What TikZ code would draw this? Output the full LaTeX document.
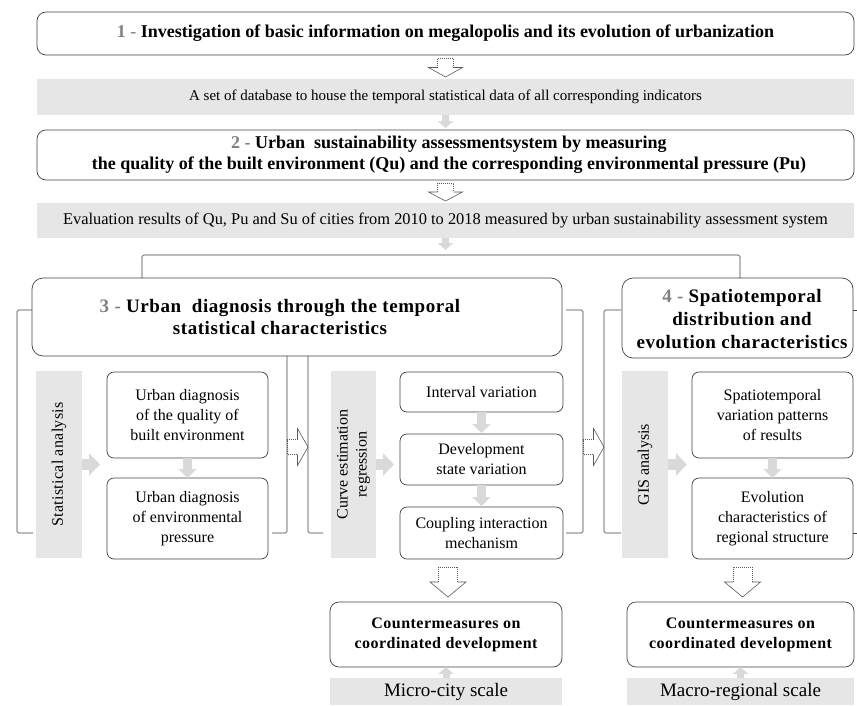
\documentclass[tikz,border=0pt]{standalone}
\usepackage{fontspec}
\setmainfont{Liberation Serif}
\usetikzlibrary{calc,arrows.meta}
\definecolor{bandc}{HTML}{E6E6E6}
\definecolor{arrc}{HTML}{D9D9D9}
\definecolor{linec}{HTML}{404040}
\definecolor{numc}{HTML}{808080}
\definecolor{holc}{HTML}{595959}
\newcommand\hdown[4]{%
  \coordinate (hA) at #1; \coordinate (hB) at #2;
  \coordinate (hM) at ($(hA)!0.5!(hB)$);
  \draw[holdot] ($(hM)+(-#3,0)$) -- ($(hA)+(-#3,0)$) -- ($(hA)+(#3,0)$) -- ($(hM)+(#3,0)$);
  \draw[holsolid] ($(hM)+(-#3,0)$) -- ($(hM)+(-#4,0)$) -- (hB) -- ($(hM)+(#4,0)$) -- ($(hM)+(#3,0)$);
}
\newcommand\hright[4]{%
  \coordinate (hA) at #1; \coordinate (hB) at #2;
  \coordinate (hM) at ($(hA)!0.5!(hB)$);
  \draw[holdot] ($(hM)+(0,-#3)$) -- ($(hA)+(0,-#3)$) -- ($(hA)+(0,#3)$) -- ($(hM)+(0,#3)$);
  \draw[holsolid] ($(hM)+(0,-#3)$) -- ($(hM)+(0,-#4)$) -- (hB) -- ($(hM)+(0,#4)$) -- ($(hM)+(0,#3)$);
}
\begin{document}
\begin{tikzpicture}[x=1pt,y=-1pt,
  box/.style={draw=linec, line width=0.7pt, rounded corners=9pt, align=center, inner sep=0pt, outer sep=0pt},
  sbox/.style={box, rounded corners=7pt, font=\fontsize{16}{20}\selectfont},
  band/.style={fill=bandc, draw=none, inner sep=0pt, outer sep=0pt, align=center},
  conn/.style={draw=linec, line width=0.6pt, rounded corners=1.5pt},
  holdot/.style={draw=holc, line width=0.6pt, dash pattern=on 1pt off 1pt},
  holsolid/.style={draw=holc, line width=0.6pt, line join=miter},
  garrowA/.style={arrc, line width=11pt, -{Triangle[width=22pt,length=11pt]}},
  garrowB/.style={arrc, line width=9pt, -{Triangle[width=18pt,length=9pt]}},
  garrowC/.style={arrc, line width=7pt, -{Triangle[width=15pt,length=7pt]}},
  lbl/.style={inner sep=0pt, align=center},
]
\useasboundingbox (0,0) rectangle (857,705);

% top part
\node[box, minimum width=817, minimum height=43] (box1) at (445.5,33.5) {};
\node[lbl, font=\fontsize{18}{21}\selectfont] (t1) at (box1.center)
  {\textcolor{numc}{\textbf{1} -} \textbf{Investigation of basic information on megalopolis and its evolution of urbanization}};
\node[band, minimum width=817, minimum height=36, font=\fontsize{15}{18}\selectfont] (band1) at (445.5,97)
  {A set of database to house the temporal statistical data of all corresponding indicators};
\node[box, minimum width=817, minimum height=50] (box2) at (445.5,155) {};
\node[lbl, font=\fontsize{18}{21}\selectfont\bfseries] (t2) at (449,155)
  {\textcolor{numc}{2 -} Urban \ sustainability assessmentsystem by measuring\\
   the quality of the built environment (Qu) and the corresponding environmental pressure (Pu)};
\node[band, minimum width=817, minimum height=35, font=\fontsize{16.4}{19}\selectfont] (band2) at (445.5,220.5)
  {Evaluation results of Qu, Pu and Su of cities from 2010 to 2018 measured by urban sustainability assessment system};

% section headers
\node[box, rounded corners=11pt, minimum width=530, minimum height=78] (box3) at (297,317) {};
\node[lbl, font=\fontsize{19}{22}\selectfont\bfseries\addfontfeature{LetterSpace=3}] (t3) at (280,317)
  {\textcolor{numc}{3 -} Urban \ diagnosis through the temporal\\statistical characteristics};
\node[box, rounded corners=11pt, minimum width=231, minimum height=80] (box4) at (737.5,318) {};
\node[lbl, font=\fontsize{19}{23}\selectfont\bfseries\addfontfeature{LetterSpace=3}] (t4) at (742,319)
  {\textcolor{numc}{4 -} Spatiotemporal\\distribution and\\evolution characteristics};

% section 1
\node[band, minimum width=46, minimum height=187] (stat) at (59,464.5) {};
\node[lbl, rotate=90, font=\fontsize{16}{19}\selectfont\addfontfeature{LetterSpace=2}] (statt) at (stat.center) {Statistical analysis};
\node[sbox, minimum width=161, minimum height=86] (s1a) at (187.5,415) {Urban diagnosis\\of the quality of\\built environment};
\node[sbox, minimum width=161, minimum height=81] (s1b) at (187.5,518.5) {Urban diagnosis\\of environmental\\pressure};

% section 2
\node[band, minimum width=45, minimum height=187] (curve) at (353.5,464.5) {};
\node[lbl, rotate=90, font=\fontsize{16}{19}\selectfont] (curvet) at (curve.center) {Curve estimation\\regression};
\node[sbox, minimum width=163, minimum height=40] (interval) at (481.5,392) {Interval variation};
\node[sbox, minimum width=163, minimum height=51] (develop) at (481.5,459.5) {Development\\state variation};
\node[sbox, minimum width=163, minimum height=52] (coupling) at (481.5,533) {Coupling interaction\\mechanism};

% section 3
\node[band, minimum width=46, minimum height=187] (gis) at (645,464.5) {};
\node[lbl, rotate=90, font=\fontsize{16}{19}\selectfont] (gist) at (gis.center) {GIS analysis};
\node[sbox, minimum width=161, minimum height=86] (s3a) at (772.5,415) {Spatiotemporal\\variation patterns\\of results};
\node[sbox, minimum width=161, minimum height=81] (s3b) at (772.5,518.5) {Evolution\\characteristics of\\regional structure};

% countermeasures
\node[sbox, rounded corners=9pt, minimum width=232, minimum height=65, font=\fontsize{16}{20}\selectfont\bfseries\addfontfeature{LetterSpace=3}] (cm1) at (446,634.5) {Countermeasures on\\coordinated development};
\node[sbox, rounded corners=9pt, minimum width=227, minimum height=65, font=\fontsize{16}{20}\selectfont\bfseries\addfontfeature{LetterSpace=3}] (cm2) at (740.5,634.5) {Countermeasures on\\coordinated development};
\node[band, minimum width=232, minimum height=27, font=\fontsize{19}{22}\selectfont] (micro) at (446,691.5) {Micro-city scale};
\node[band, minimum width=227, minimum height=27, font=\fontsize{19}{22}\selectfont] (macro) at (740.5,691.5) {Macro-regional scale};

% bracket coordinates
\coordinate (tl) at (142,255);
\coordinate (tr) at (740,255);
\coordinate (l1a) at (17,310);
\coordinate (l1b) at (17,533);
\coordinate (r1) at (287,533);
\coordinate (l2) at (308,533);
\coordinate (r2a) at (583,310);
\coordinate (r2b) at (583,533);
\coordinate (l3a) at (604,310);
\coordinate (l3b) at (604,533);

% connectors (brackets)
\draw[conn] (tl |- box3.north) -- (tl) -- (tr) -- (tr |- box4.north);
\draw[conn] (box3.west |- l1a) -- (l1a) -- (l1b) -- ++(16,0);
\draw[conn] (r1 |- box3.south) -- (r1) -- ++(-15,0);
\draw[conn] (l2 |- box3.south) -- (l2) -- ++(15,0);
\draw[conn] ($(box3.east |- r2a)+(4,0)$) -- (r2a) -- (r2b) -- ++(-17,0);
\draw[conn] ($(box4.west |- l3a)+(-1,0)$) -- (l3a) -- (l3b) -- ++(17,0);
\draw[conn] (box4.east |- l3a) -- ++(4,0);
\draw[conn] (s3b.east |- l3b) -- ++(4,0);

% hollow arrows
\hdown{($(box1.south)+(0,3)$)}{($(band1.north)+(0,-2)$)}{8}{17}
\hdown{($(box2.south)+(0,3)$)}{($(band2.north)+(0,-2)$)}{8}{17}
\hdown{($(cm1.north |- coupling.south)+(2,8)$)}{($(cm1.north)+(2,-5)$)}{9.5}{18}
\hdown{($(cm2.north |- s3b.south)+(2,8)$)}{($(cm2.north)+(2,-5)$)}{9.5}{18}
\hright{($(r1 |- 0,447)$)}{($(l2 |- 0,447)$)}{7.5}{18.5}
\hright{($(r2a |- 0,447)$)}{($(l3a |- 0,447)$)}{7.5}{18.5}

% gray arrows
\draw[garrowC] (band1.south) -- ($(box2.north)+(0,-2)$);
\draw[garrowC] (band2.south) -- ($(tl -| band2.south)+(0,-5)$);
\draw[garrowA] (stat.east) -- ($(s1a.west |- stat.east)+(-7,0)$);
\draw[garrowA] (curve.east) -- ($(interval.west |- curve.east)+(-6,0)$);
\draw[garrowA] (gis.east) -- ($(s3a.west |- gis.east)+(-5,0)$);
\draw[garrowB] (s1a.south) -- (s1b.north);
\draw[garrowB] (interval.south) -- ($(develop.north)+(0,-1)$);
\draw[garrowB] (develop.south) -- ($(coupling.north)+(0,-1)$);
\draw[garrowB] (s3a.south) -- (s3b.north);
\draw[garrowC] (micro.north) -- (cm1.south);
\draw[garrowC] (macro.north) -- (cm2.south);
\end{tikzpicture}
\end{document}
